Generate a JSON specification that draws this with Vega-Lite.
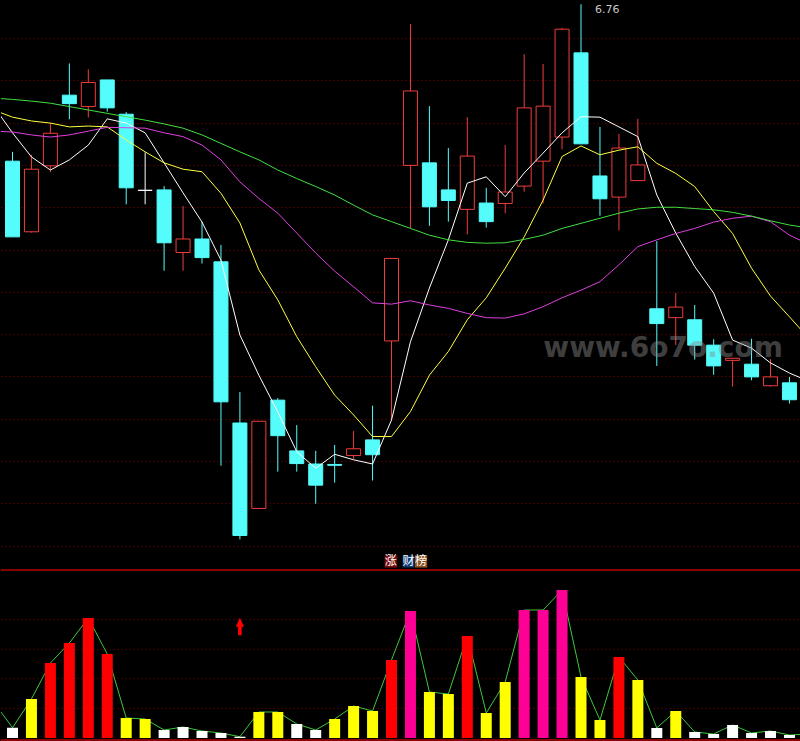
{
  "$schema": "https://vega.github.io/schema/vega-lite/v6.json",
  "background": "#000000",
  "padding": 0,
  "spacing": 0,
  "config": {"view": {"stroke": null}, "axis": {"minExtent": 0, "maxExtent": 0}, "scale": {"continuousPadding": 0}},
  "resolve": {"scale": {"x": "independent", "y": "independent", "color": "independent", "fill": "independent", "stroke": "independent"}},
  "datasets": {
    "candles": [
      {"i": 0, "o": 6.389, "h": 6.411, "l": 6.210, "c": 6.210},
      {"i": 1, "o": 6.222, "h": 6.404, "l": 6.220, "c": 6.370},
      {"i": 2, "o": 6.378, "h": 6.479, "l": 6.363, "c": 6.455},
      {"i": 3, "o": 6.545, "h": 6.620, "l": 6.488, "c": 6.525},
      {"i": 4, "o": 6.518, "h": 6.606, "l": 6.492, "c": 6.575},
      {"i": 5, "o": 6.581, "h": 6.581, "l": 6.506, "c": 6.515},
      {"i": 6, "o": 6.500, "h": 6.505, "l": 6.287, "c": 6.326},
      {"i": 7, "o": 6.320, "h": 6.410, "l": 6.287, "c": 6.320},
      {"i": 8, "o": 6.321, "h": 6.330, "l": 6.130, "c": 6.196},
      {"i": 9, "o": 6.173, "h": 6.283, "l": 6.130, "c": 6.205},
      {"i": 10, "o": 6.205, "h": 6.246, "l": 6.147, "c": 6.161},
      {"i": 11, "o": 6.151, "h": 6.191, "l": 5.669, "c": 5.820},
      {"i": 12, "o": 5.770, "h": 5.843, "l": 5.495, "c": 5.504},
      {"i": 13, "o": 5.568, "h": 5.774, "l": 5.568, "c": 5.774},
      {"i": 14, "o": 5.824, "h": 5.829, "l": 5.655, "c": 5.740},
      {"i": 15, "o": 5.704, "h": 5.765, "l": 5.655, "c": 5.674},
      {"i": 16, "o": 5.673, "h": 5.704, "l": 5.579, "c": 5.623},
      {"i": 17, "o": 5.672, "h": 5.718, "l": 5.629, "c": 5.670},
      {"i": 18, "o": 5.693, "h": 5.751, "l": 5.685, "c": 5.709},
      {"i": 19, "o": 5.730, "h": 5.811, "l": 5.634, "c": 5.695},
      {"i": 20, "o": 5.964, "h": 6.159, "l": 5.777, "c": 6.159},
      {"i": 21, "o": 6.379, "h": 6.713, "l": 6.230, "c": 6.555},
      {"i": 22, "o": 6.385, "h": 6.519, "l": 6.236, "c": 6.281},
      {"i": 23, "o": 6.321, "h": 6.420, "l": 6.246, "c": 6.296},
      {"i": 24, "o": 6.275, "h": 6.493, "l": 6.216, "c": 6.401},
      {"i": 25, "o": 6.290, "h": 6.326, "l": 6.232, "c": 6.246},
      {"i": 26, "o": 6.289, "h": 6.427, "l": 6.266, "c": 6.316},
      {"i": 27, "o": 6.330, "h": 6.642, "l": 6.317, "c": 6.515},
      {"i": 28, "o": 6.389, "h": 6.619, "l": 6.289, "c": 6.519},
      {"i": 29, "o": 6.446, "h": 6.704, "l": 6.417, "c": 6.701},
      {"i": 30, "o": 6.645, "h": 6.760, "l": 6.430, "c": 6.430},
      {"i": 31, "o": 6.354, "h": 6.470, "l": 6.260, "c": 6.300},
      {"i": 32, "o": 6.304, "h": 6.453, "l": 6.225, "c": 6.420},
      {"i": 33, "o": 6.343, "h": 6.489, "l": 6.343, "c": 6.380},
      {"i": 34, "o": 6.040, "h": 6.200, "l": 5.905, "c": 6.005},
      {"i": 35, "o": 6.019, "h": 6.077, "l": 5.954, "c": 6.044},
      {"i": 36, "o": 6.014, "h": 6.049, "l": 5.920, "c": 5.954},
      {"i": 37, "o": 5.954, "h": 5.968, "l": 5.884, "c": 5.905},
      {"i": 38, "o": 5.918, "h": 5.923, "l": 5.856, "c": 5.923},
      {"i": 39, "o": 5.909, "h": 5.969, "l": 5.871, "c": 5.879},
      {"i": 40, "o": 5.858, "h": 5.921, "l": 5.856, "c": 5.879},
      {"i": 41, "o": 5.865, "h": 5.879, "l": 5.816, "c": 5.825}
    ],
    "ma": [
      {"i": -1, "ma5": 6.519, "ma10": 6.510, "ma20": 6.460, "ma60": 6.538},
      {"i": 0, "ma5": 6.456, "ma10": 6.493, "ma20": 6.458, "ma60": 6.535},
      {"i": 1, "ma5": 6.399, "ma10": 6.484, "ma20": 6.451, "ma60": 6.531},
      {"i": 2, "ma5": 6.368, "ma10": 6.479, "ma20": 6.446, "ma60": 6.526},
      {"i": 3, "ma5": 6.392, "ma10": 6.470, "ma20": 6.451, "ma60": 6.518},
      {"i": 4, "ma5": 6.427, "ma10": 6.472, "ma20": 6.460, "ma60": 6.510},
      {"i": 5, "ma5": 6.489, "ma10": 6.470, "ma20": 6.469, "ma60": 6.502},
      {"i": 6, "ma5": 6.479, "ma10": 6.439, "ma20": 6.468, "ma60": 6.494},
      {"i": 7, "ma5": 6.456, "ma10": 6.411, "ma20": 6.467, "ma60": 6.486},
      {"i": 8, "ma5": 6.385, "ma10": 6.385, "ma20": 6.456, "ma60": 6.477},
      {"i": 9, "ma5": 6.314, "ma10": 6.370, "ma20": 6.447, "ma60": 6.467},
      {"i": 10, "ma5": 6.245, "ma10": 6.364, "ma20": 6.427, "ma60": 6.451},
      {"i": 11, "ma5": 6.155, "ma10": 6.313, "ma20": 6.392, "ma60": 6.431},
      {"i": 12, "ma5": 5.978, "ma10": 6.243, "ma20": 6.340, "ma60": 6.411},
      {"i": 13, "ma5": 5.883, "ma10": 6.132, "ma20": 6.301, "ma60": 6.392},
      {"i": 14, "ma5": 5.796, "ma10": 6.061, "ma20": 6.266, "ma60": 6.368},
      {"i": 15, "ma5": 5.702, "ma10": 5.974, "ma20": 6.219, "ma60": 6.348},
      {"i": 16, "ma5": 5.663, "ma10": 5.903, "ma20": 6.172, "ma60": 6.329},
      {"i": 17, "ma5": 5.696, "ma10": 5.836, "ma20": 6.129, "ma60": 6.309},
      {"i": 18, "ma5": 5.683, "ma10": 5.789, "ma20": 6.092, "ma60": 6.285},
      {"i": 19, "ma5": 5.673, "ma10": 5.738, "ma20": 6.054, "ma60": 6.262},
      {"i": 20, "ma5": 5.777, "ma10": 5.738, "ma20": 6.051, "ma60": 6.246},
      {"i": 21, "ma5": 5.962, "ma10": 5.797, "ma20": 6.059, "ma60": 6.230},
      {"i": 22, "ma5": 6.089, "ma10": 5.883, "ma20": 6.049, "ma60": 6.214},
      {"i": 23, "ma5": 6.203, "ma10": 5.939, "ma20": 6.041, "ma60": 6.203},
      {"i": 24, "ma5": 6.337, "ma10": 6.014, "ma20": 6.029, "ma60": 6.197},
      {"i": 25, "ma5": 6.352, "ma10": 6.066, "ma20": 6.019, "ma60": 6.195},
      {"i": 26, "ma5": 6.305, "ma10": 6.136, "ma20": 6.018, "ma60": 6.196},
      {"i": 27, "ma5": 6.361, "ma10": 6.210, "ma20": 6.028, "ma60": 6.204},
      {"i": 28, "ma5": 6.408, "ma10": 6.297, "ma20": 6.045, "ma60": 6.214},
      {"i": 29, "ma5": 6.456, "ma10": 6.400, "ma20": 6.066, "ma60": 6.230},
      {"i": 30, "ma5": 6.494, "ma10": 6.425, "ma20": 6.084, "ma60": 6.242},
      {"i": 31, "ma5": 6.493, "ma10": 6.404, "ma20": 6.104, "ma60": 6.254},
      {"i": 32, "ma5": 6.470, "ma10": 6.415, "ma20": 6.144, "ma60": 6.266},
      {"i": 33, "ma5": 6.447, "ma10": 6.423, "ma20": 6.187, "ma60": 6.276},
      {"i": 34, "ma5": 6.309, "ma10": 6.384, "ma20": 6.203, "ma60": 6.280},
      {"i": 35, "ma5": 6.219, "ma10": 6.360, "ma20": 6.218, "ma60": 6.280},
      {"i": 36, "ma5": 6.140, "ma10": 6.329, "ma20": 6.230, "ma60": 6.277},
      {"i": 37, "ma5": 6.077, "ma10": 6.270, "ma20": 6.245, "ma60": 6.274},
      {"i": 38, "ma5": 5.966, "ma10": 6.218, "ma20": 6.254, "ma60": 6.268},
      {"i": 39, "ma5": 5.947, "ma10": 6.136, "ma20": 6.259, "ma60": 6.259},
      {"i": 40, "ma5": 5.912, "ma10": 6.070, "ma20": 6.246, "ma60": 6.248},
      {"i": 41, "ma5": 5.888, "ma10": 6.021, "ma20": 6.214, "ma60": 6.238},
      {"i": 42, "ma5": 5.869, "ma10": 5.971, "ma20": 6.193, "ma60": 6.231}
    ],
    "ind": [
      {"i": -1, "v": 36, "k": "y"},
      {"i": 0, "v": 10.3, "k": "w"},
      {"i": 1, "v": 39, "k": "y"},
      {"i": 2, "v": 75, "k": "r"},
      {"i": 3, "v": 95, "k": "r"},
      {"i": 4, "v": 120, "k": "r"},
      {"i": 5, "v": 84, "k": "r"},
      {"i": 6, "v": 20, "k": "y"},
      {"i": 7, "v": 19, "k": "y"},
      {"i": 8, "v": 8, "k": "w"},
      {"i": 9, "v": 11, "k": "w"},
      {"i": 10, "v": 7, "k": "w"},
      {"i": 11, "v": 5, "k": "w"},
      {"i": 12, "v": 1.3, "k": "w"},
      {"i": 13, "v": 26, "k": "y"},
      {"i": 14, "v": 26, "k": "y"},
      {"i": 15, "v": 14, "k": "w"},
      {"i": 16, "v": 8, "k": "w"},
      {"i": 17, "v": 19, "k": "y"},
      {"i": 18, "v": 32, "k": "y"},
      {"i": 19, "v": 27, "k": "y"},
      {"i": 20, "v": 78, "k": "r"},
      {"i": 21, "v": 127, "k": "m"},
      {"i": 22, "v": 46, "k": "y"},
      {"i": 23, "v": 44, "k": "y"},
      {"i": 24, "v": 102, "k": "r"},
      {"i": 25, "v": 25, "k": "y"},
      {"i": 26, "v": 56, "k": "y"},
      {"i": 27, "v": 128, "k": "m"},
      {"i": 28, "v": 128, "k": "m"},
      {"i": 29, "v": 148, "k": "m"},
      {"i": 30, "v": 61, "k": "y"},
      {"i": 31, "v": 18, "k": "y"},
      {"i": 32, "v": 81, "k": "r"},
      {"i": 33, "v": 58, "k": "y"},
      {"i": 34, "v": 10, "k": "w"},
      {"i": 35, "v": 27, "k": "y"},
      {"i": 36, "v": 6, "k": "w"},
      {"i": 37, "v": 4, "k": "w"},
      {"i": 38, "v": 13, "k": "w"},
      {"i": 39, "v": 5, "k": "w"},
      {"i": 40, "v": 7, "k": "w"},
      {"i": 41, "v": 3, "k": "w"},
      {"i": 42, "v": 4, "k": "w"}
    ]
  },
  "vconcat": [
    {
      "width": 800,
      "height": 569,
      "layer": [
        {
          "data": {"name": "candles"},
          "transform": [{"calculate": "datum.c > datum.o ? 'up' : (datum.c < datum.o ? 'down' : 'flat')", "as": "dir"}],
          "mark": {"type": "rule", "strokeWidth": 1},
          "encoding": {
            "x": {"field": "i", "type": "quantitative", "scale": {"domain": [-0.607, 41.609], "nice": false, "zero": false, "padding": 0}, "axis": null},
            "y": {
              "field": "l", "type": "quantitative",
              "scale": {"domain": [5.4248, 6.77], "nice": false, "zero": false, "padding": 0},
              "axis": {"values": [6.68, 6.58, 6.48, 6.38, 6.28, 6.18, 6.08, 5.98, 5.88, 5.78, 5.68, 5.58, 5.48], "grid": true, "gridColor": "#800000", "gridDash": [1, 3], "labels": false, "ticks": false, "domain": false, "title": null}
            },
            "y2": {"field": "h"},
            "stroke": {"field": "dir", "type": "nominal", "scale": {"domain": ["up", "down", "flat"], "range": ["#f03c3c", "#54fcfc", "#ffffff"]}, "legend": null}
          }
        },
        {
          "data": {"name": "candles"},
          "transform": [{"calculate": "datum.c > datum.o ? 'up' : (datum.c < datum.o ? 'down' : 'flat')", "as": "dir"}],
          "mark": {"type": "bar", "size": 14, "strokeWidth": 1},
          "encoding": {
            "x": {"field": "i", "type": "quantitative"},
            "y": {"field": "o", "type": "quantitative"},
            "y2": {"field": "c"},
            "fill": {"field": "dir", "type": "nominal", "scale": {"domain": ["up", "down", "flat"], "range": ["#000000", "#54fcfc", "#ffffff"]}, "legend": null},
            "stroke": {"field": "dir", "type": "nominal", "legend": null}
          }
        },
        {
          "data": {"name": "ma"},
          "mark": {"type": "line", "clip": true, "color": "#ffffff", "strokeWidth": 1},
          "encoding": {"x": {"field": "i", "type": "quantitative"}, "y": {"field": "ma5", "type": "quantitative"}}
        },
        {
          "data": {"name": "ma"},
          "mark": {"type": "line", "clip": true, "color": "#ffff40", "strokeWidth": 1},
          "encoding": {"x": {"field": "i", "type": "quantitative"}, "y": {"field": "ma10", "type": "quantitative"}}
        },
        {
          "data": {"name": "ma"},
          "mark": {"type": "line", "clip": true, "color": "#e040e0", "strokeWidth": 1},
          "encoding": {"x": {"field": "i", "type": "quantitative"}, "y": {"field": "ma20", "type": "quantitative"}}
        },
        {
          "data": {"name": "ma"},
          "mark": {"type": "line", "clip": true, "color": "#40e040", "strokeWidth": 1},
          "encoding": {"x": {"field": "i", "type": "quantitative"}, "y": {"field": "ma60", "type": "quantitative"}}
        },
        {
          "data": {"name": "candles"},
          "transform": [
            {"joinaggregate": [{"op": "max", "field": "h", "as": "hmax"}]},
            {"filter": "datum.h === datum.hmax"}
          ],
          "mark": {"type": "text", "align": "left", "baseline": "middle", "dx": 14, "dy": 6, "font": "DejaVu Sans", "fontSize": 11, "color": "#c8c8c8"},
          "encoding": {
            "x": {"field": "i", "type": "quantitative"},
            "y": {"field": "h", "type": "quantitative"},
            "text": {"field": "h", "format": ".2f", "formatType": "number"}
          }
        },
        {
          "data": {"values": [{}]},
          "mark": {"type": "text", "font": "DejaVu Sans", "fontWeight": "bold", "fontSize": 28, "color": "#8a8a8a", "opacity": 0.45, "baseline": "middle", "align": "center"},
          "encoding": {"x": {"datum": 34.33}, "y": {"datum": 5.945}, "text": {"value": "www.6o7o.com"}}
        },
        {
          "data": {"values": [{}]},
          "mark": {"type": "point", "shape": "square", "filled": true, "size": 150, "color": "#7a0c0c", "opacity": 1},
          "encoding": {"x": {"datum": 19.96}, "y": {"datum": 5.4426}}
        },
        {
          "data": {"values": [{}]},
          "mark": {"type": "point", "shape": "square", "filled": true, "size": 140, "color": "#0c3c78", "opacity": 1},
          "encoding": {"x": {"datum": 20.9}, "y": {"datum": 5.4426}}
        },
        {
          "data": {"values": [{}]},
          "mark": {"type": "point", "shape": "square", "filled": true, "size": 150, "color": "#8a5020", "opacity": 1},
          "encoding": {"x": {"datum": 21.56}, "y": {"datum": 5.4426}}
        },
        {
          "data": {"values": [{}]},
          "mark": {"type": "text", "font": "Noto Sans CJK SC", "fontSize": 12, "color": "#ffffff", "baseline": "middle", "align": "center"},
          "encoding": {"x": {"datum": 19.96}, "y": {"datum": 5.4426}, "text": {"value": "涨"}}
        },
        {
          "data": {"values": [{}]},
          "mark": {"type": "text", "font": "Noto Sans CJK SC", "fontSize": 12, "color": "#ffffff", "baseline": "middle", "align": "center"},
          "encoding": {"x": {"datum": 20.9}, "y": {"datum": 5.4426}, "text": {"value": "财"}}
        },
        {
          "data": {"values": [{}]},
          "mark": {"type": "text", "font": "Noto Sans CJK SC", "fontSize": 12, "color": "#ffffff", "baseline": "middle", "align": "center"},
          "encoding": {"x": {"datum": 21.56}, "y": {"datum": 5.4426}, "text": {"value": "榜"}}
        }
      ]
    },
    {
      "width": 800,
      "height": 172,
      "layer": [
        {
          "data": {"name": "ind"},
          "mark": {"type": "line", "clip": true, "color": "#3cc83c", "strokeWidth": 1},
          "encoding": {
            "x": {"field": "i", "type": "quantitative", "scale": {"domain": [-0.607, 41.609], "nice": false, "zero": false, "padding": 0}, "axis": null},
            "y": {
              "field": "v", "type": "quantitative",
              "scale": {"domain": [-4, 168], "nice": false, "zero": false, "padding": 0},
              "axis": {"values": [30, 60, 89, 119], "grid": true, "gridColor": "#800000", "gridDash": [1, 3], "labels": false, "ticks": false, "domain": false, "title": null}
            }
          }
        },
        {
          "data": {"name": "ind"},
          "mark": {"type": "bar", "size": 11, "clip": true},
          "encoding": {
            "x": {"field": "i", "type": "quantitative"},
            "y": {"field": "v", "type": "quantitative"},
            "y2": {"datum": 0},
            "color": {"field": "k", "type": "nominal", "scale": {"domain": ["w", "y", "r", "m"], "range": ["#ffffff", "#ffff00", "#ff0000", "#ff0096"]}, "legend": null}
          }
        },
        {
          "data": {"values": [{}]},
          "mark": {"type": "rule", "color": "#8b0000", "strokeWidth": 2},
          "encoding": {"y": {"datum": 168}}
        },
        {
          "data": {"values": [{}]},
          "mark": {"type": "rule", "color": "#8b0000", "strokeWidth": 2},
          "encoding": {"y": {"datum": -2}}
        },
        {
          "data": {"values": [{}]},
          "mark": {"type": "point", "shape": "arrow", "filled": true, "size": 220, "color": "#ff0000", "stroke": "#ff0000", "strokeWidth": 1.5, "opacity": 1},
          "encoding": {"x": {"datum": 12}, "y": {"datum": 111}}
        }
      ]
    }
  ]
}
